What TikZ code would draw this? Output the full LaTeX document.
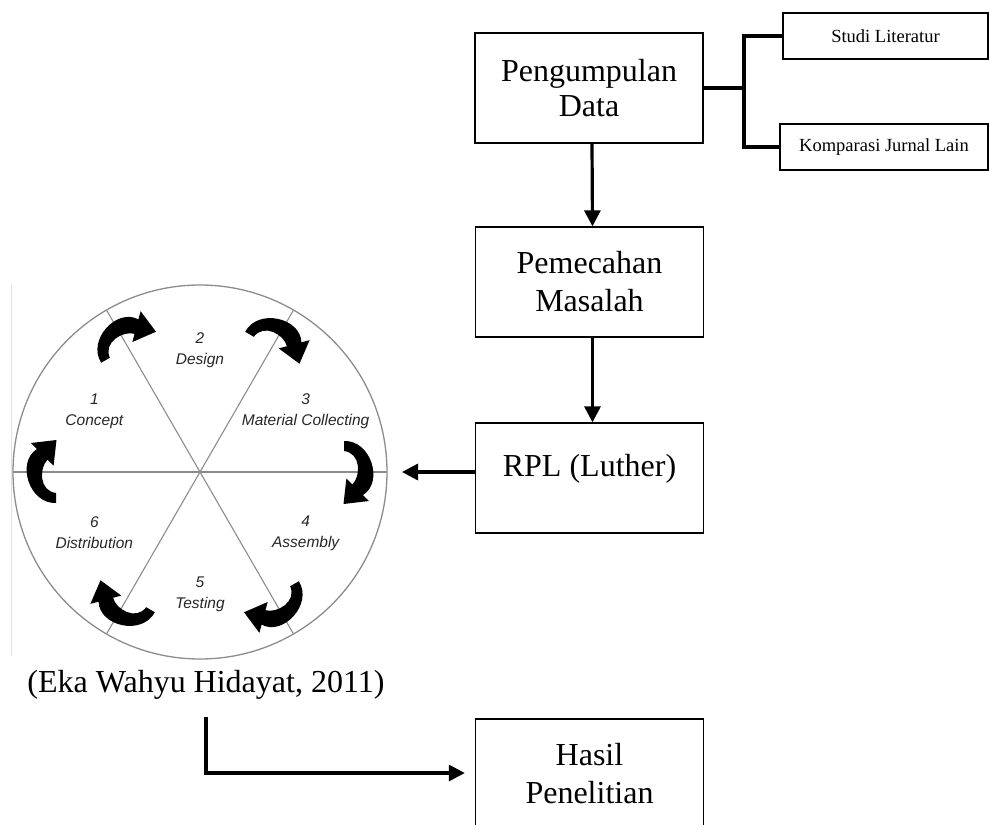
\documentclass[tikz,border=0pt]{standalone}
\usepackage{fontspec}
\setmainfont{Liberation Serif}
\setsansfont{Liberation Sans}
\usetikzlibrary{arrows.meta}
\begin{document}
\begin{tikzpicture}[x=1pt,y=1pt,>={Triangle[length=16pt,width=16pt]},
    kotak/.style={draw,line width=1.3pt,minimum width=228pt,minimum height=110pt,
      align=center,inner sep=0pt,font=\fontsize{32}{38}\selectfont},
    kecil/.style={draw,line width=1.3pt,minimum height=46pt,inner sep=0pt,
      font=\fontsize{18.5}{22}\selectfont},
    panah/.style={line width=3.2pt,->},
    tahap/.style={align=center,text=black!85,
      font=\sffamily\itshape\fontsize{15.5}{21}\selectfont}]
    \def\r{187}
    \clip (0,0) rectangle (989,-825);
    % kotak alur
    \node[kotak,font=\fontsize{32}{35}\selectfont] (pd) at (589,-88) {Pengumpulan\\Data};
    \node[kotak] (pm) at (589.5,-282) {Pemecahan\\Masalah};
    \node[kotak,text height=22pt,text depth=26pt] (rpl) at (589.5,-478) {RPL (Luther)};
    \node[kotak] (hp) at (589.5,-774) {Hasil\\Penelitian};
    \node[kecil,minimum width=205pt] (sl) at (885.5,-36) {Studi Literatur};
    \node[kecil,minimum width=208pt] (kj) at (884,-147) {Komparasi Jurnal Lain};
    \node[font=\fontsize{32}{38}\selectfont] (sumber) at (206,-685) {(Eka Wahyu Hidayat, 2011)};
    % cabang
    \draw[line width=4pt] (pd.east) -- ++(40,0) coordinate (cab);
    \draw[line width=4pt] (sl.west) -| (cab) |- (kj.west);
    \draw[panah] ([xshift=3pt]pd.south) -- ([xshift=3pt]pm.north);
    \draw[panah] ([xshift=3pt]pm.south) -- ([xshift=3pt]rpl.north);
    \coordinate (ujung) at (402,-472);
    \draw[panah] (rpl.west |- ujung) -- (ujung);
    \draw[panah,shorten >=10pt] ([yshift=-14pt]sumber.south) |- ([yshift=1pt]hp.west);
    % siklus multimedia
    \draw[black!12,line width=0.8pt] (11,-285) -- (11,-655);
    \begin{scope}[shift={(200,-472)}]
    \draw[black!45,line width=1.3pt] (0,0) circle (\r);
    \foreach \a in {0,60,120}
        \draw[black!45,line width=1.1pt] (\a:\r) -- ({\a+180}:\r);
    \foreach \i/\txt in {1/Concept,2/Design,3/Material Collecting,4/Assembly,5/Testing,6/Distribution}
        \node[tahap] (t\i) at ({210-60*\i}:122) {\i\\\txt};
    \foreach \a in {120,60,0,-60,-120,180}
        \fill[shift={(\a:155)},rotate=\a-90] (-31,-11) .. controls (-32,16) and (10,29) .. (23,8)
        -- (29,14) -- (32,-11.5) -- (6.4,-8.6) -- (12.4,-2.6)
        .. controls (4,6) and (-19,6) .. (-21,-11) -- cycle;
    \end{scope}
\end{tikzpicture}
\end{document}
